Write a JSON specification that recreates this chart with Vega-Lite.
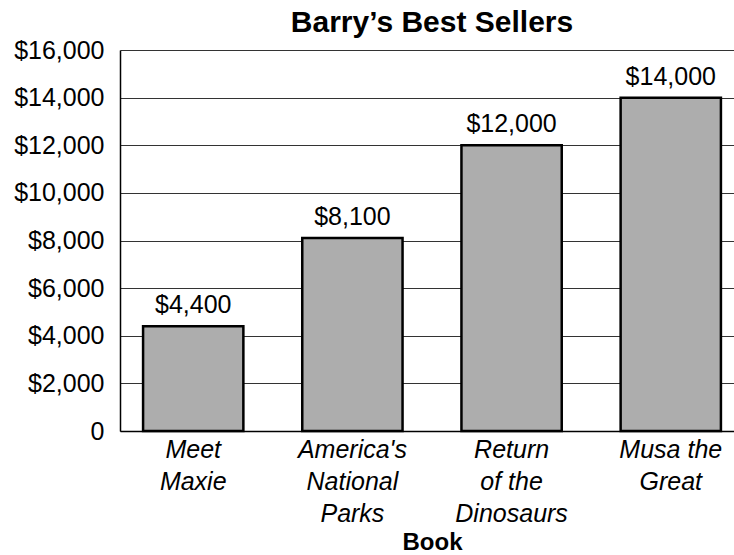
{
  "$schema": "https://vega.github.io/schema/vega-lite/v6.json",
  "width": 624,
  "height": 381,
  "autosize": {"type": "none"},
  "padding": {"left": 120, "top": 50, "right": 0, "bottom": 124},
  "title": {
    "text": "Barry’s Best Sellers",
    "font": "Liberation Sans",
    "fontSize": 30,
    "fontWeight": "bold",
    "color": "black",
    "anchor": "middle",
    "frame": "group",
    "baseline": "alphabetic",
    "offset": -24
  },
  "data": {
    "values": [
      {"book": "Meet Maxie", "sales": 4400},
      {"book": "America's National Parks", "sales": 8100},
      {"book": "Return of the Dinosaurs", "sales": 12000},
      {"book": "Musa the Great", "sales": 14000}
    ]
  },
  "encoding": {
    "x": {
      "field": "book",
      "type": "nominal",
      "sort": null,
      "scale": {"paddingInner": 0.37, "paddingOuter": 0.145},
      "axis": {
        "title": "Book",
        "titleFont": "Liberation Sans",
        "titleFontSize": 24,
        "titleFontWeight": "bold",
        "titleColor": "black",
        "titlePadding": 4,
        "labelFont": "Liberation Sans",
        "labelFontSize": 25,
        "labelFontStyle": "italic",
        "labelColor": "black",
        "labelAngle": 0,
        "labelLineHeight": 32,
        "labelPadding": 6,
        "labelExpr": "datum.value == 'Meet Maxie' ? ['Meet', 'Maxie'] : datum.value == \"America's National Parks\" ? [\"America's\", 'National', 'Parks'] : datum.value == 'Return of the Dinosaurs' ? ['Return', 'of the', 'Dinosaurs'] : ['Musa the', 'Great']",
        "ticks": false,
        "domainColor": "black",
        "domainWidth": 1.5
      }
    },
    "y": {
      "field": "sales",
      "type": "quantitative",
      "scale": {"domain": [0, 16000], "nice": false},
      "axis": {
        "title": null,
        "values": [0, 2000, 4000, 6000, 8000, 10000, 12000, 14000, 16000],
        "labelExpr": "datum.value == 0 ? '0' : '$' + format(datum.value, ',')",
        "labelFont": "Liberation Sans",
        "labelFontSize": 25,
        "labelColor": "black",
        "labelPadding": 16,
        "ticks": false,
        "grid": true,
        "gridColor": "#333333",
        "gridWidth": 1,
        "domainColor": "black",
        "domainWidth": 1.5
      }
    }
  },
  "layer": [
    {
      "mark": {"type": "bar", "fill": "#adadad", "stroke": "black", "strokeWidth": 2.5}
    },
    {
      "mark": {"type": "text", "font": "Liberation Sans", "fontSize": 25, "color": "black", "baseline": "alphabetic", "dy": -13},
      "encoding": {
        "text": {"field": "sales", "type": "quantitative", "format": "$,"}
      }
    }
  ],
  "config": {
    "view": {"stroke": null},
    "background": "white"
  }
}
